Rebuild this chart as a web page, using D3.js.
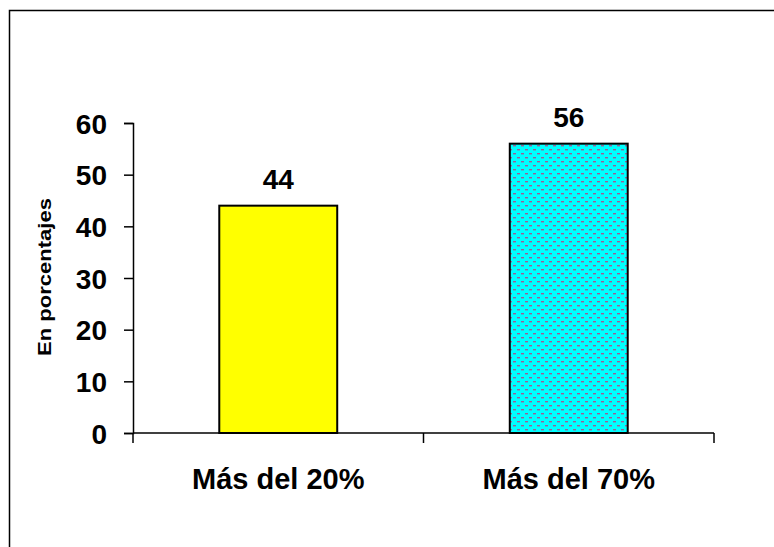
<!DOCTYPE html>
<html>
<head>
<meta charset="utf-8">
<script src="https://cdn.jsdelivr.net/npm/d3@7"></script>
<style>
  body { margin: 0; background: #fff; }
  svg { display: block; font-family: "Liberation Sans", Arial, sans-serif; }
</style>
</head>
<body>
<svg id="chart" width="774" height="547"></svg>
<script>
var categories = ["Más del 20%", "Más del 70%"];
var values = [44, 56];
var yTicks = [0, 10, 20, 30, 40, 50, 60];

var svg = d3.select('#chart');

// outer frame (only left and top visible)
svg.append("path")
    .attr("d", "M9.5,547 V10.5 H774")
    .attr("fill", "none")
    .attr("stroke", "#000")
    .attr("stroke-width", 1.5);

// pattern for second bar
var defs = svg.append("defs");
var pat = defs.append("pattern")
    .attr("id", "dots")
    .attr("patternUnits", "userSpaceOnUse")
    .attr("width", 8)
    .attr("height", 8);
pat.append("rect").attr("width", 8).attr("height", 8).attr("fill", "#00ffff");
pat.append("rect").attr("x", 1).attr("y", 1).attr("width", 3).attr("height", 1.4).attr("fill", "#9a5f95");
pat.append("rect").attr("x", 5).attr("y", 5).attr("width", 3).attr("height", 1.4).attr("fill", "#9a5f95");

var x0 = 133, x1 = 714, yBottom = 433, yTop = 123;

var x = d3.scaleBand()
    .domain(categories)
    .range([x0, x1])
    .paddingInner(0.594)
    .paddingOuter(0.297);

var y = d3.scaleLinear()
    .domain([0, 60])
    .range([yBottom, yTop]);

// bars
svg.selectAll("rect.bar")
    .data(values)
    .enter().append("rect")
        .attr("class", "bar")
        .attr("x", function(d, i) { return x(categories[i]); })
        .attr("y", function(d) { return y(d); })
        .attr("width", x.bandwidth())
        .attr("height", function(d) { return y(0) - y(d); })
        .attr("fill", function(d, i) { return i == 0 ? "#ffff00" : "url(#dots)"; })
        .attr("stroke", "#000")
        .attr("stroke-width", 2);

// value labels
svg.selectAll("text.val")
    .data(values)
    .enter().append("text")
        .attr("class", "val")
        .attr("x", function(d, i) { return x(categories[i]) + x.bandwidth()/2; })
        .attr("y", function(d) { return y(d) - 17; })
        .attr("text-anchor", "middle")
        .attr("font-size", 28)
        .attr("font-weight", "bold")
        .text(function(d) { return d; });

// y axis
var yAxis = d3.axisLeft(y).tickValues(yTicks).tickSize(9).tickPadding(17);
var gy = svg.append("g")
    .attr("transform", "translate(" + x0 + ",0)")
    .call(yAxis);
gy.select(".domain").attr("stroke-width", 1.5);
gy.selectAll(".tick line").attr("stroke-width", 1.5);
gy.selectAll(".tick text")
    .attr("font-size", 28)
    .attr("font-weight", "bold")
    .attr("fill", "#000")
    .attr("dy", "0.36em")
    .attr("font-family", "Liberation Sans, Arial, sans-serif");

// x axis: ticks at band boundaries, pointing down
var xAxisG = svg.append("g");
xAxisG.append("line")
    .attr("x1", x0).attr("x2", x1)
    .attr("y1", yBottom).attr("y2", yBottom)
    .attr("stroke", "#000").attr("stroke-width", 1.5);
var bounds = [x0, x0 + (x1 - x0)/2, x1];
xAxisG.selectAll("line.tick")
    .data(bounds)
    .enter().append("line")
        .attr("class", "tick")
        .attr("x1", function(d) { return d; })
        .attr("x2", function(d) { return d; })
        .attr("y1", yBottom)
        .attr("y2", yBottom + 10)
        .attr("stroke", "#000").attr("stroke-width", 1.5);

// category labels
svg.selectAll("text.cat")
    .data(categories)
    .enter().append("text")
        .attr("class", "cat")
        .attr("x", function(d) { return x(d) + x.bandwidth()/2; })
        .attr("y", 489)
        .attr("text-anchor", "middle")
        .attr("font-size", 29)
        .attr("font-weight", "bold")
        .text(function(d) { return d; });

// y axis title
svg.append("text")
    .attr("transform", "translate(51," + 277 + ") rotate(-90)")
    .attr("text-anchor", "middle")
    .attr("font-size", 18)
    .attr("font-weight", "bold")
    .attr("textLength", 158)
    .attr("lengthAdjust", "spacingAndGlyphs")
    .text("En porcentajes");
</script>
</body>
</html>
